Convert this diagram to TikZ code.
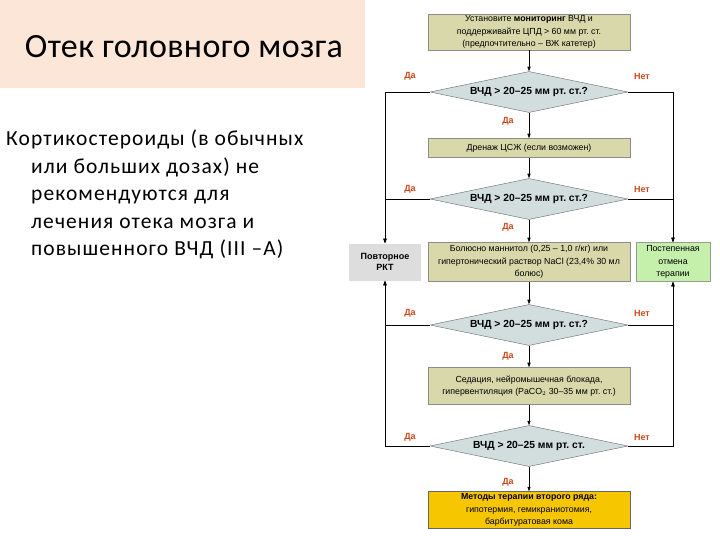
\documentclass[tikz,border=0pt]{standalone}
\usepackage{fontspec}
\setmainfont{Liberation Sans}
\newfontfamily\slidefont[Ligatures=TeX, LetterSpace=5]{Carlito}
\newfontfamily\headfont[LetterSpace=1]{Carlito}
\usepackage{tikz}
\usetikzlibrary{arrows.meta, positioning, shapes.geometric}
\definecolor{khaki}{RGB}{216,216,170}
\definecolor{steel}{RGB}{210,222,222}
\definecolor{peach}{RGB}{252,230,216}
\definecolor{leaf}{RGB}{196,240,172}
\definecolor{gold}{RGB}{246,198,0}
\definecolor{rust}{RGB}{204,72,28}
\definecolor{ash}{RGB}{221,221,221}
\newcommand{\vchd}{ВЧД > 20--25 мм рт.\ ст.}

\begin{document}
\begin{tikzpicture}[x=1pt, y=-1pt,
      every node/.style={font=\fontsize{8.8}{12.5}\selectfont},
      box/.style={draw=black!45, fill=khaki, align=center, inner sep=1pt,
                  minimum width=202pt},
      side/.style={align=center, inner sep=1pt},
      test/.style={diamond, draw=black!60, fill=steel, inner sep=0pt, aspect=4.7,
                   minimum width=198pt, minimum height=41pt,
                   font=\fontsize{10.3}{12}\selectfont\bfseries},
      yes/.style={text=rust, font=\fontsize{9}{10}\selectfont\bfseries},
      ar/.style={-{Triangle[length=1.6mm, width=1.1mm]}, draw=black, line width=0.6pt}]
    \useasboundingbox (0,0) rectangle (720,540);
    % slide title and note
    \fill[peach] (0,0) rectangle (365,88);
    \node[font=\fontsize{34}{40}\selectfont\headfont] (title) at (184,47) {Отек головного мозга};
    \node[anchor=north west, text width=350pt, inner sep=0pt,
          font=\fontsize{21.5}{27.5}\selectfont\slidefont] (note) at (6,130)
      {\raggedright\spaceskip=0.28em plus 0.1em minus 0.05em\hangindent=25pt\hangafter=1
       Кортикостероиды (в обычных\newline или больших дозах) не\newline
       рекомендуются для\newline лечения отека мозга и\newline повышенного ВЧД (III --А)\par};
    % flowchart
    \node[box, minimum height=36pt] (mon) at (529,32)
      {Установите \textbf{мониторинг} ВЧД и\\поддерживайте ЦПД > 60 мм рт.\ ст.\\(предпочтительно -- ВЖ катетер)};
    \node[test] (t1) at (529,92) {\vchd?};
    \node[box, minimum height=19pt] (csf) at (529,148) {Дренаж ЦСЖ (если возможен)};
    \node[test] (t2) at (529,199) {\vchd?};
    \node[box, minimum height=39pt] (osm) at (529,262)
      {Болюсно маннитол (0,25 -- 1,0 г/кг) или\\гипертонический раствор NaCl (23,4\% 30 мл\\болюс)};
    \node[side, fill=ash, minimum width=72pt, minimum height=37pt, font=\fontsize{9}{11.5}\selectfont\bfseries]
      (ct) at (385,262) {Повторное\\РКТ};
    \node[side, draw=black!40, fill=leaf, minimum width=74pt, minimum height=39pt]
      (stop) at (673,262) {Постепенная\\отмена\\терапии};
    \node[test] (t3) at (529,325) {\vchd?};
    \node[box, minimum height=37pt] (sed) at (529,386)
      {Седация, нейромышечная блокада,\\гипервентиляция (PaCO$_2$ 30--35 мм рт.\ ст.)};
    \node[test] (t4) at (529,446) {\vchd};
    \node[box, fill=gold, draw=black!60, minimum height=37pt] (alt) at (529,510)
      {\textbf{Методы терапии второго ряда:}\\гипотермия, гемикраниотомия,\\барбитуратовая кома};
    % answers
    \node[yes] (y1) at (410,76) {Да};   \node[yes] (n1) at (642,76) {Нет};
    \node[yes] (y1d) at (508,121) {Да};
    \node[yes] (y2) at (410,189) {Да};  \node[yes] (n2) at (642,189) {Нет};
    \node[yes] (y2d) at (508,227) {Да};
    \node[yes] (y3) at (410,313) {Да};  \node[yes] (n3) at (642,313) {Нет};
    \node[yes] (y3d) at (508,356) {Да};
    \node[yes] (y4) at (410,437) {Да};  \node[yes] (n4) at (642,437) {Нет};
    \node[yes] (y4d) at (508,482) {Да};
    % main line
    \draw[ar] (mon) -- (t1);  \draw[ar] (t1) -- (csf);
    \draw[ar] (csf) -- (t2);  \draw[ar] (t2) -- (osm);
    \draw[ar] (osm) -- (t3);  \draw[ar] (t3) -- (sed);
    \draw[ar] (sed) -- (t4);  \draw[ar] (t4) -- (alt);
    % branches
    \draw[ar] (t1.west) -| (ct.north);  \draw[ar] (t2.west) -| (ct.north);
    \draw[ar] (t3.west) -| (ct.south);  \draw[ar] (t4.west) -| (ct.south);
    \draw[ar] (t1.east) -| (stop.north); \draw[ar] (t2.east) -| (stop.north);
    \draw[ar] (t3.east) -| (stop.south); \draw[ar] (t4.east) -| (stop.south);
  \end{tikzpicture}
\end{document}
